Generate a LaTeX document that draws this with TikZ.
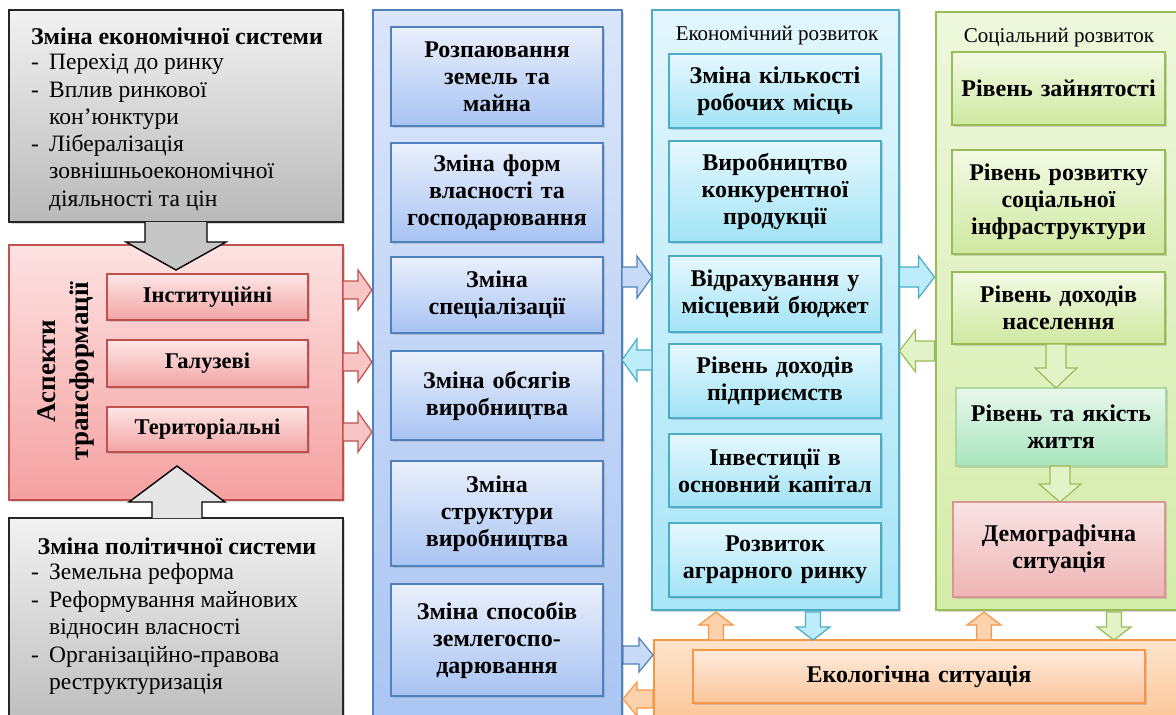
\documentclass[tikz,border=0pt]{standalone}
\usepackage{fontspec}
\setmainfont{Liberation Serif}
\usetikzlibrary{shadows}

\definecolor{grayT}{HTML}{F2F2F2}
\definecolor{grayB}{HTML}{B9B9B9}
\definecolor{grayArrA}{HTML}{C6C6C6}
\definecolor{grayArrB}{HTML}{E6E6E6}
\definecolor{redBd}{HTML}{C0504D}
\definecolor{redColT}{HTML}{FDE2E2}
\definecolor{redColB}{HTML}{F5A0A0}
\definecolor{redBoxT}{HTML}{FDE6E6}
\definecolor{redBoxB}{HTML}{F2A4A4}
\definecolor{redArr}{HTML}{F8C4C4}
\definecolor{blueBd}{HTML}{4F81BD}
\definecolor{blueColT}{HTML}{DAE5FA}
\definecolor{blueColB}{HTML}{A9C5F2}
\definecolor{blueBoxT}{HTML}{EAF0FC}
\definecolor{blueBoxB}{HTML}{A8C3F2}
\definecolor{blueArr}{HTML}{C9DAF6}
\definecolor{cyanBd}{HTML}{4BACC6}
\definecolor{cyanColT}{HTML}{E2F6FC}
\definecolor{cyanColB}{HTML}{A8E6F8}
\definecolor{cyanBoxT}{HTML}{E6F8FD}
\definecolor{cyanBoxB}{HTML}{A2E3F6}
\definecolor{cyanArr}{HTML}{BDEDFA}
\definecolor{greenBd}{HTML}{9BBB59}
\definecolor{greenColT}{HTML}{EEF7DC}
\definecolor{greenColB}{HTML}{D4ECA8}
\definecolor{greenBoxT}{HTML}{F3FAE5}
\definecolor{greenBoxB}{HTML}{CFE8A0}
\definecolor{greenArr}{HTML}{E3F3C8}
\definecolor{mintT}{HTML}{E9F7EC}
\definecolor{mintB}{HTML}{A8E5BE}
\definecolor{mintBd}{HTML}{AED6A0}
\definecolor{demT}{HTML}{F9E4E4}
\definecolor{demB}{HTML}{EEB4B4}
\definecolor{demBd}{HTML}{D99594}
\definecolor{oraBd}{HTML}{F79646}
\definecolor{oraColT}{HTML}{FDE4CC}
\definecolor{oraColB}{HTML}{FBC08D}
\definecolor{oraBoxT}{HTML}{FDEBDC}
\definecolor{oraBoxB}{HTML}{FBC59B}
\definecolor{oraArr}{HTML}{FCD2AC}

\tikzset{
  shad/.style={drop shadow={shadow xshift=1.5pt, shadow yshift=-1.5pt, opacity=0.3}},
  boxbase/.style={line width=1.3pt, align=center, inner sep=2pt, text width=206pt,
    font=\bfseries\fontsize{24}{27}\selectfont, shad},
  colbase/.style={line width=1.5pt, shad},
  graybox/.style={colbase, draw=black!85, top color=grayT, bottom color=grayB},
  redcol/.style={colbase, draw=redBd, top color=redColT, bottom color=redColB},
  redbox/.style={boxbase, draw=redBd, top color=redBoxT, bottom color=redBoxB, text width=196pt,
    font=\bfseries\fontsize{22.5}{26}\selectfont},
  bluecol/.style={colbase, draw=blueBd, top color=blueColT, bottom color=blueColB},
  bluebox/.style={boxbase, draw=blueBd, top color=blueBoxT, bottom color=blueBoxB},
  cyancol/.style={colbase, draw=cyanBd, top color=cyanColT, bottom color=cyanColB},
  cyanbox/.style={boxbase, draw=cyanBd, top color=cyanBoxT, bottom color=cyanBoxB},
  greencol/.style={colbase, draw=greenBd, top color=greenColT, bottom color=greenColB},
  greenbox/.style={boxbase, draw=greenBd, top color=greenBoxT, bottom color=greenBoxB},
  mintbox/.style={boxbase, draw=mintBd, top color=mintT, bottom color=mintB},
  dembox/.style={boxbase, draw=demBd, top color=demT, bottom color=demB},
  oracol/.style={colbase, draw=oraBd, top color=oraColT, bottom color=oraColB},
  orabox/.style={boxbase, draw=oraBd, top color=oraBoxT, bottom color=oraBoxB, text width=440pt},
  coltitle/.style={font=\fontsize{21}{23}\selectfont, inner sep=0pt},
  graytitle/.style={font=\bfseries\fontsize{24}{26}\selectfont, inner sep=0pt},
  grayitems/.style={align=left, inner sep=0pt},
  rarr/.style={draw=redBd, line width=1.2pt, fill=redArr},
  barr/.style={draw=blueBd, line width=1.2pt, fill=blueArr},
  carr/.style={draw=cyanBd, line width=1.2pt, fill=cyanArr},
  garr/.style={draw=greenBd, line width=1.2pt, fill=greenArr},
  oarr/.style={draw=oraBd, line width=1.2pt, fill=oraArr},
  grayarrA/.style={draw=black, line width=1.4pt, fill=grayArrA},
  grayarrB/.style={draw=black, line width=1.4pt, fill=grayArrB},
}

% #1 style, #2 name, #3 x1, #4 y1, #5 x2, #6 y2, #7 text
\newcommand{\boxat}[7]{\node[#1, minimum width={(#5-#3)*1pt}, minimum height={(#6-#4)*1pt}] (#2) at ({(#3+#5)/2},{(#4+#6)/2}) {#7};}
% block arrow: #1 style, #2 x, #3 y, #4 angle, #5 length, #6 stem half, #7 head half, #8 head length
\newcommand{\blockarr}[8]{\path[#1, shift={(#2,#3)}, rotate=#4] ({-#5/2},{-#6}) -- ({#5/2-#8},{-#6}) -- ({#5/2-#8},{-#7}) -- ({#5/2},0) -- ({#5/2-#8},{#7}) -- ({#5/2-#8},{#6}) -- ({-#5/2},{#6}) -- cycle;}
% same without the back edge stroked
\newcommand{\blockarrO}[8]{\path[#1, draw=none, shift={(#2,#3)}, rotate=#4] ({-#5/2},{-#6}) -- ({#5/2-#8},{-#6}) -- ({#5/2-#8},{-#7}) -- ({#5/2},0) -- ({#5/2-#8},{#7}) -- ({#5/2-#8},{#6}) -- ({-#5/2},{#6}) -- cycle;
\path[#1, fill=none, line join=miter, shift={(#2,#3)}, rotate=#4] ({-#5/2},{-#6}) -- ({#5/2-#8},{-#6}) -- ({#5/2-#8},{-#7}) -- ({#5/2},0) -- ({#5/2-#8},{#7}) -- ({#5/2-#8},{#6}) -- ({-#5/2},{#6});}
\newcommand{\itm}{\makebox[18pt][l]{-}}
\newcommand{\cnt}{\hspace*{18pt}}

\begin{document}
\begin{tikzpicture}[x=1pt,y=-1pt]
\useasboundingbox (0,0) rectangle (1176,715);
\clip (0,0) rectangle (1176,715);

% ---------- left part ----------
\boxat{redcol}{aspects}{9}{245}{343}{500}{}
\node[rotate=90, align=center, font=\bfseries\fontsize{27}{33}\selectfont, inner sep=0pt] (asptitle) at (66,371) {Аспекти\\трансформації};
\boxat{redbox}{inst}{107}{274}{308}{320}{Інституційні}
\boxat{redbox}{galuz}{107}{340}{308}{387}{Галузеві}
\boxat{redbox}{terit}{107}{407}{308}{452}{Територіальні}

\boxat{graybox}{econ}{9}{10}{343}{222}{}
\node[graytitle, anchor=base] (econt) at (177,44) {Зміна економічної системи};
\node[grayitems, anchor=north west, font=\fontsize{23.5}{27.3}\selectfont] (econi) at (31,54) {\itm Перехід до ринку\\ \itm Вплив ринкової\\ \cnt кон’юнктури\\ \itm Лібералізація\\ \cnt зовнішньоекономічної\\ \cnt діяльності та цін};

\boxat{graybox}{polit}{9}{518}{343}{740}{}
\node[graytitle, anchor=base] (polt) at (177,554) {Зміна політичної системи};
\node[grayitems, anchor=north west, font=\fontsize{23.5}{27.5}\selectfont] (poli) at (31,563) {\itm Земельна реформа\\ \itm Реформування майнових\\ \cnt відносин власності\\ \itm Організаційно-правова\\ \cnt реструктуризація};

\blockarrO{grayarrA}{176}{246}{-90}{48}{31}{50}{28}
\blockarrO{grayarrB}{177}{492}{90}{52}{25}{48}{36}

\blockarr{rarr}{357.5}{290}{0}{29}{9}{20}{14}
\blockarr{rarr}{357.5}{362}{0}{29}{9}{20}{14}
\blockarr{rarr}{357.5}{432}{0}{29}{9}{20}{14}

% ---------- blue column ----------
\boxat{bluecol}{blue}{373}{10}{622}{740}{}
\boxat{bluebox}{b1}{391}{27}{603}{126}{Розпаювання\\земель та\\майна}
\boxat{bluebox}{b2}{391}{143}{603}{242}{Зміна форм\\власності та\\господарювання}
\boxat{bluebox}{b3}{391}{257}{603}{333}{Зміна\\спеціалізації}
\boxat{bluebox}{b4}{391}{351}{603}{440}{Зміна обсягів\\виробництва}
\boxat{bluebox}{b5}{391}{461}{603}{566}{Зміна\\структури\\виробництва}
\boxat{bluebox}{b6}{391}{584}{603}{696}{Зміна способів\\землегоспо-\\дарювання}

% ---------- cyan column ----------
\boxat{cyancol}{cyan}{652}{10}{899}{610}{}
\node[coltitle] (ectitle) at (777,36) {Економічний розвиток};
\boxat{cyanbox}{c1}{669}{54}{881}{128}{Зміна кількості\\робочих місць}
\boxat{cyanbox}{c2}{669}{141}{881}{242}{Виробництво\\конкурентної\\продукції}
\boxat{cyanbox}{c3}{669}{256}{881}{332}{Відрахування у\\місцевий бюджет}
\boxat{cyanbox}{c4}{669}{344}{881}{418}{Рівень доходів\\підприємств}
\boxat{cyanbox}{c5}{669}{434}{881}{507}{Інвестиції в\\основний капітал}
\boxat{cyanbox}{c6}{669}{523}{881}{597}{Розвиток\\аграрного ринку}

% ---------- green column ----------
\boxat{greencol}{green}{936}{12}{1190}{610}{}
\node[coltitle] (soctitle) at (1059,38) {Соціальний розвиток};
\boxat{greenbox}{g1}{952}{52}{1165}{125}{Рівень зайнятості}
\boxat{greenbox}{g2}{952}{150}{1165}{254}{Рівень розвитку\\соціальної\\інфраструктури}
\boxat{greenbox}{g3}{952}{272}{1165}{344}{Рівень доходів\\населення}
\boxat{mintbox}{g4}{957}{388}{1165}{466}{Рівень та якість\\життя}
\boxat{dembox}{g5}{953}{502}{1165}{597}{Демографічна\\ситуація}
\blockarr{garr}{1056}{366}{-90}{44}{10}{21}{20}
\blockarr{garr}{1060}{484}{-90}{36}{10}{21}{18}

% ---------- orange ----------
\boxat{oracol}{ecoarea}{654}{640}{1190}{740}{}
\boxat{orabox}{eco}{693}{650}{1145}{703}{Екологічна ситуація}

% ---------- horizontal arrows between columns ----------
\blockarr{barr}{637}{277}{0}{30}{10}{21}{15}
\blockarr{carr}{637}{360}{180}{30}{10}{21}{15}
\blockarr{barr}{638}{655}{0}{30}{9}{17}{14}
\blockarr{oarr}{638}{699}{180}{30}{9}{17}{14}
\blockarr{carr}{917}{277}{0}{35}{10}{21}{16}
\blockarr{garr}{917}{351}{180}{35}{10}{21}{16}

% ---------- vertical arrows to/from ecology ----------
\blockarr{oarr}{716}{626}{90}{28}{7.5}{17}{13}
\blockarr{carr}{813}{626}{-90}{28}{7.5}{17}{13}
\blockarr{oarr}{984}{626}{90}{28}{7.5}{17}{13}
\blockarr{garr}{1114}{626}{-90}{28}{7.5}{17}{13}
\end{tikzpicture}
\end{document}
